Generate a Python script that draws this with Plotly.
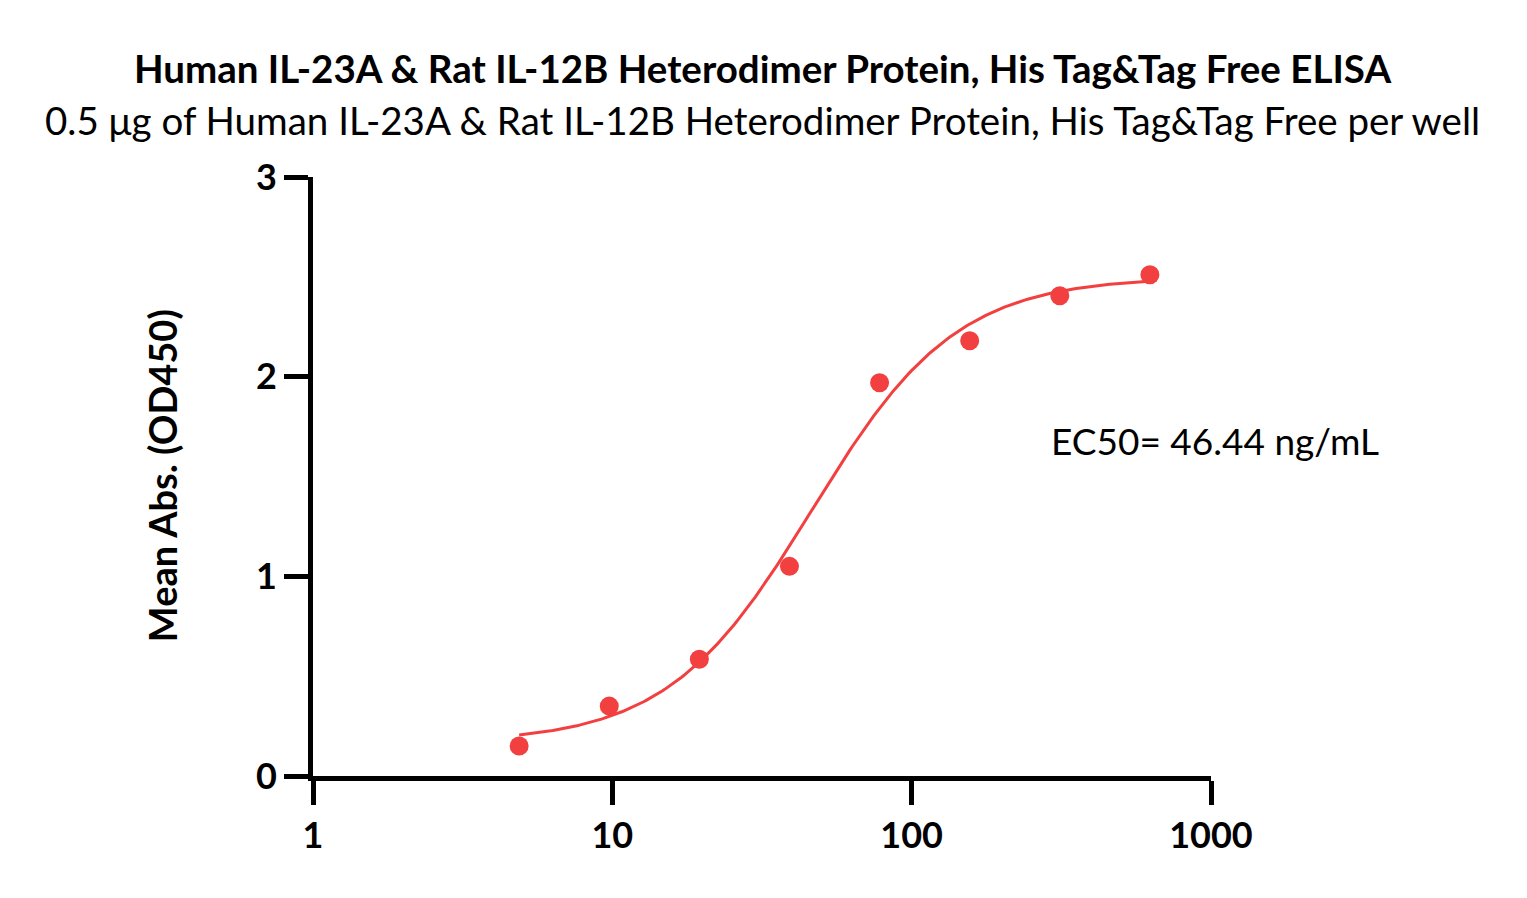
import numpy as np
import plotly.graph_objects as go

# Data
conc = [4.883, 9.766, 19.53, 39.06, 78.13, 156.25, 312.5, 625.0]
od450 = [0.15, 0.35, 0.585, 1.05, 1.97, 2.18, 2.405, 2.51]

# 4PL fit parameters
fit_bottom = 0.165
fit_top = 2.50
fit_ec50 = 46.44
fit_hill = 1.8

x_tickvals = [1, 10, 100, 1000]
x_ticktext = ["1", "10", "100", "1000"]
y_tickvals = [0, 1, 2, 3]

title_main = "Human IL-23A & Rat IL-12B Heterodimer Protein, His Tag&Tag Free ELISA"
title_sub = "0.5 μg of Human IL-23A & Rat IL-12B Heterodimer Protein, His Tag&Tag Free per well"
y_title = "Mean Abs. (OD450)"
ec50_label = "EC50= 46.44 ng/mL"

RED = "#F23F3F"
FONT = "Lato"

xfit = np.logspace(np.log10(conc[0]), np.log10(conc[-1]), 300)
yfit = fit_bottom + (fit_top - fit_bottom) / (1 + (fit_ec50 / xfit) ** fit_hill)

fig = go.Figure()
fig.add_trace(go.Scatter(x=xfit, y=yfit, mode="lines",
                         line=dict(color=RED, width=3), hoverinfo="skip",
                         showlegend=False))
fig.add_trace(go.Scatter(x=conc, y=od450, mode="markers",
                         marker=dict(color=RED, size=19, line=dict(width=0)),
                         showlegend=False))

axis_common = dict(showgrid=False, zeroline=False, showline=True,
                   linecolor="black", linewidth=5, ticks="outside",
                   ticklen=24, tickwidth=5, tickcolor="black",
                   tickfont=dict(family=FONT, size=36, color="black", weight="bold"))

fig.update_xaxes(type="log", range=[0, 3], tickvals=x_tickvals,
                 ticktext=x_ticktext, **axis_common)
fig.update_yaxes(range=[0, 3], tickvals=y_tickvals, **axis_common)

fig.update_layout(
    width=1527, height=898,
    margin=dict(l=305, r=324, t=169, b=130, autoexpand=False),
    plot_bgcolor="white", paper_bgcolor="white",
    font=dict(family=FONT, color="black"),
    annotations=[
        dict(text="<b>" + title_main + "</b>", xref="paper", yref="paper",
             x=0.501, y=1.182, xanchor="center", yanchor="middle",
             showarrow=False, font=dict(family=FONT, size=38.5, color="black")),
        dict(text=title_sub, xref="paper", yref="paper",
             x=0.501, y=1.095, xanchor="center", yanchor="middle",
             showarrow=False, font=dict(family=FONT, size=38.5, color="black")),
        dict(text="<b>" + y_title + "</b>", xref="paper", yref="paper",
             x=-0.168, y=0.5008, xanchor="center", yanchor="middle",
             textangle=-90, showarrow=False,
             font=dict(family=FONT, size=38, color="black")),
        dict(text=ec50_label, xref="x", yref="y",
             x=2.459, y=1.68, xanchor="left", yanchor="middle",
             showarrow=False, font=dict(family=FONT, size=37, color="black")),
    ],
)

fig.write_html("out.html")
